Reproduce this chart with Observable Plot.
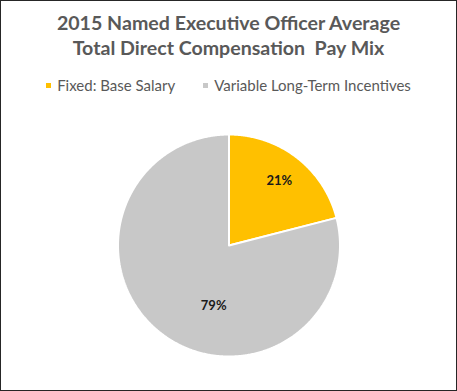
<!DOCTYPE html>
<html>
<head>
<meta charset="utf-8">
<script src="https://cdn.jsdelivr.net/npm/d3@7"></script>
<script src="https://cdn.jsdelivr.net/npm/@observablehq/plot@0.6"></script>
<style>
  html, body { margin: 0; padding: 0; background: #fff; }
  #frame { position: relative; width: 457px; height: 391px; box-sizing: border-box; border: 1px solid #262626; background: #fff; overflow: hidden; }
  #chart { position: absolute; left: 0; top: 0; }
  #chart svg { background: transparent !important; }
  #title { position: absolute; left: 0; top: 9px; width: 455px; text-align: center; font-family: Lato, sans-serif; font-weight: bold; font-size: 19.6px; line-height: 25px; color: #595959; z-index: 2; }
  #legend { position: absolute; left: 0; top: 75px; width: 455px; display: flex; justify-content: center; gap: 28px; font-family: Lato, sans-serif; font-size: 15px; color: #595959; z-index: 2; }
  .item { display: flex; align-items: center; }
  .sw { width: 5px; height: 5px; margin-right: 6px; }
</style>
</head>
<body>
<div id="frame">
  <div id="chart"></div>
  <div id="title">2015 Named Executive Officer Average<br>Total Direct Compensation&nbsp; Pay Mix</div>
  <div id="legend"></div>
</div>
<script>
const categories = ["Fixed: Base Salary", "Variable Long-Term Incentives"];
const shares = [21, 79];
const colors = ["#FFC000", "#C8C8C8"];

const total = d3.sum(shares);
const pts = [];
const labelPts = [];
let cum = 0;
categories.forEach((c, i) => {
  const a0 = 2 * Math.PI * cum / total;
  cum += shares[i];
  const a1 = 2 * Math.PI * cum / total;
  const n = Math.max(2, Math.ceil((a1 - a0) / (Math.PI / 360)));
  pts.push({slice: c, x: 0, y: 0});
  for (let k = 0; k <= n; k++) {
    const a = a0 + (a1 - a0) * k / n;
    pts.push({slice: c, x: Math.sin(a), y: Math.cos(a)});
  }
  pts.push({slice: c, x: 0, y: 0});
  const m = (a0 + a1) / 2;
  labelPts.push({slice: c, share: shares[i], x: 0.74 * Math.sin(m), y: 0.74 * Math.cos(m), text: shares[i] + "%"});
});

const plot = Plot.plot({
  width: 455,
  height: 389,
  x: {domain: [-1, 1], range: [116.5, 338.5], axis: null},
  y: {domain: [-1, 1], range: [355, 133], axis: null},
  color: {domain: categories, range: colors},
  marks: [
    Plot.line(pts, {x: "x", y: "y", z: "slice", fill: "slice", stroke: "white", strokeWidth: 2, strokeLinejoin: "miter"}),
    Plot.text(labelPts.filter(d => d.share < 50), {x: "x", y: "y", text: "text", fontFamily: "Lato, sans-serif", fontWeight: "bold", fontSize: 13, fill: "#1a1a1a"}),
    Plot.text(labelPts.filter(d => d.share >= 50), {x: "x", y: "y", text: "text", dx: 35, dy: -5, fontFamily: "Lato, sans-serif", fontWeight: "bold", fontSize: 13, fill: "#1a1a1a"})
  ]
});
document.getElementById("chart").appendChild(plot);

const legend = document.getElementById("legend");
categories.forEach((c, i) => {
  const item = document.createElement("div");
  item.className = "item";
  const sw = document.createElement("span");
  sw.className = "sw";
  sw.style.background = colors[i];
  const t = document.createElement("span");
  t.textContent = c;
  item.appendChild(sw);
  item.appendChild(t);
  legend.appendChild(item);
});
</script>
</body>
</html>
